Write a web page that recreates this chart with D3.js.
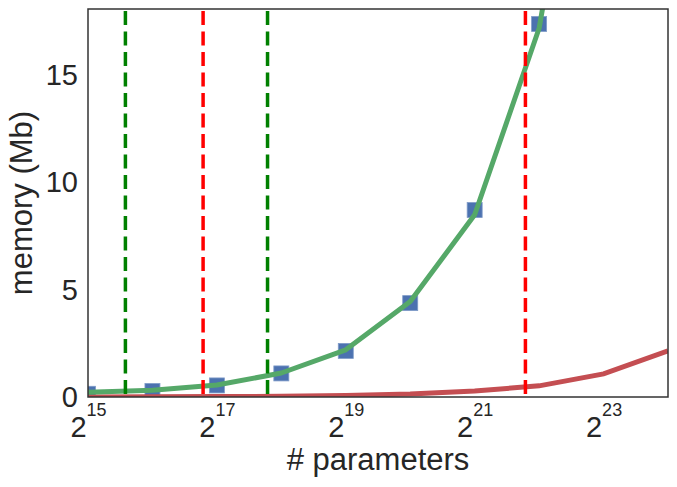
<!DOCTYPE html>
<html>
<head>
<meta charset="utf-8">
<script src="https://cdn.jsdelivr.net/npm/d3@7"></script>
<style>
  body { margin: 0; background: #fff; }
  text { font-family: "Liberation Sans", Arial, sans-serif; fill: #262626; }
</style>
</head>
<body>
<div id="chart"></div>
<script>
// data
const params = [32768, 65536, 131072, 262144, 524288, 1048576, 2097152, 4194304, 8388608, 16777216];
const measured = [0.15, 0.28, 0.54, 1.1, 2.15, 4.38, 8.72, 17.4];          // blue squares, 2^15..2^22
const fitted = [0.22, 0.32, 0.56, 1.12, 2.2, 4.45, 8.5, 17.2, 34.5];        // green line, 2^15..2^23
const small = [0.005, 0.01, 0.02, 0.035, 0.07, 0.14, 0.28, 0.52, 1.08, 2.15]; // red line, 2^15..2^24
const greenMarks = [49000, 226000];
const redMarks = [113000, 3620000];
const xTickExp = [15, 17, 19, 21, 23];
const yTicks = [0, 5, 10, 15];

const margin = {top: 9, right: 9, bottom: 90, left: 88},
  width = 677 - margin.left - margin.right,
  height = 487 - margin.top - margin.bottom;

const svg = d3.select("#chart")
  .append("svg")
  .attr("width", 677)
  .attr("height", 487)
  .append("g")
  .attr("transform", `translate(${margin.left},${margin.top})`);

const x = d3.scaleLog().base(2)
  .domain([2 ** 15, 2 ** 24])
  .range([0, width]);

const y = d3.scaleLinear()
  .domain([0, 18.1])
  .range([height, 0]);

svg.append("defs").append("clipPath")
  .attr("id", "clip")
  .append("rect")
  .attr("width", width)
  .attr("height", height);

const plot = svg.append("g").attr("clip-path", "url(#clip)");

// blue squares
plot.selectAll("rect.sq")
  .data(measured)
  .join("rect")
  .attr("class", "sq")
  .attr("x", (d, i) => x(params[i]) - 7.5)
  .attr("y", d => y(d) - 7.5)
  .attr("width", 15)
  .attr("height", 15)
  .attr("fill", "#4C72B0")
  .attr("stroke", "#7f9bc8")
  .attr("stroke-width", 0.8);

const line = d3.line()
  .x((d, i) => x(params[i]))
  .y(d => y(d));

plot.append("path")
  .datum(small)
  .attr("fill", "none")
  .attr("stroke", "#C44E52")
  .attr("stroke-width", 5)
  .attr("d", line);

plot.append("path")
  .datum(fitted)
  .attr("fill", "none")
  .attr("stroke", "#55A868")
  .attr("stroke-width", 5)
  .attr("stroke-linejoin", "round")
  .attr("d", line);

// dashed vertical markers
const marks = greenMarks.map(v => ({v, c: "#008000"}))
  .concat(redMarks.map(v => ({v, c: "#FF0000"})));
plot.selectAll("line.mark")
  .data(marks)
  .join("line")
  .attr("class", "mark")
  .attr("x1", d => x(d.v))
  .attr("x2", d => x(d.v))
  .attr("y1", 2)
  .attr("y2", height)
  .attr("stroke", d => d.c)
  .attr("stroke-width", 3.5)
  .attr("stroke-dasharray", "14 6.5");

// axes
const xAxis = svg.append("g")
  .attr("transform", `translate(0,${height})`)
  .call(d3.axisBottom(x).tickValues(xTickExp.map(e => 2 ** e)).tickSize(0).tickFormat(""));
xAxis.select(".domain").remove();
xAxis.selectAll(".tick text").remove();
xAxis.selectAll(".tick").each(function(d, i) {
  const t = d3.select(this).append("text")
    .attr("y", 40)
    .attr("text-anchor", "middle")
    .attr("fill", "#262626");
  t.append("tspan").attr("font-size", 29).text("2");
  t.append("tspan").attr("font-size", 18).attr("dy", -21).text(xTickExp[i]);
});

const yAxis = svg.append("g")
  .call(d3.axisLeft(y).tickValues(yTicks).tickSize(0).tickPadding(10));
yAxis.select(".domain").remove();
yAxis.selectAll(".tick text")
  .attr("font-size", 29)
  .attr("fill", "#262626");

// frame
svg.append("rect")
  .attr("width", width)
  .attr("height", height)
  .attr("fill", "none")
  .attr("stroke", "#333")
  .attr("stroke-width", 1.5);

// labels
svg.append("text")
  .attr("x", width / 2)
  .attr("y", height + 73)
  .attr("text-anchor", "middle")
  .attr("font-size", 31)
  .text("# parameters");

svg.append("text")
  .attr("transform", `translate(${32 - margin.left},${height / 2}) rotate(-90)`)
  .attr("text-anchor", "middle")
  .attr("font-size", 31)
  .text("memory (Mb)");
</script>
</body>
</html>
